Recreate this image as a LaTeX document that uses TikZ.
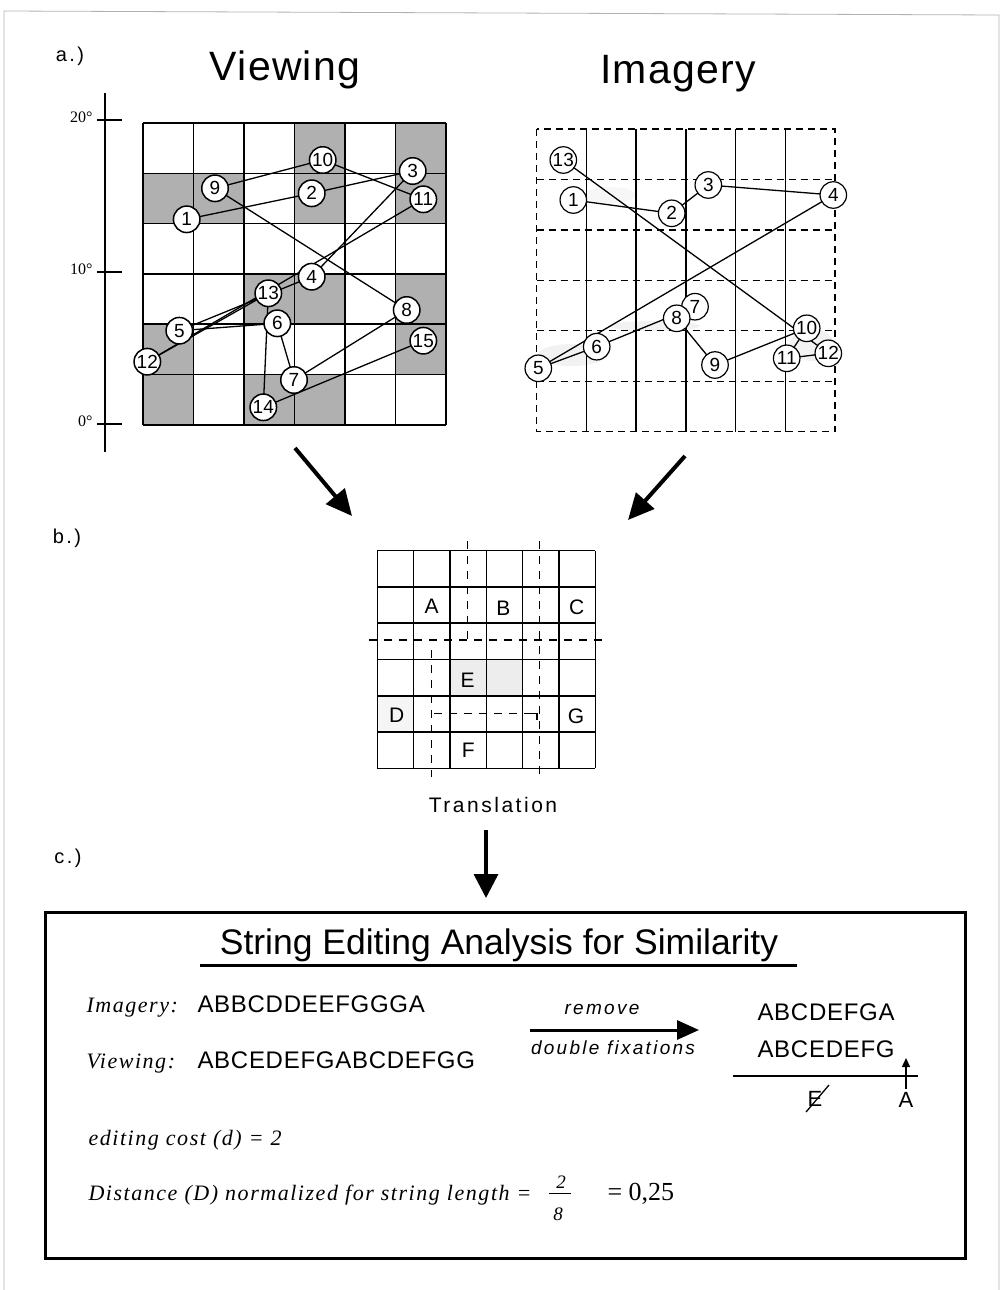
\documentclass[tikz,border=0pt]{standalone}
\usepackage{fontspec}
\setmainfont{Liberation Serif}
\setsansfont{Liberation Sans}
\newfontfamily\sansT[LetterSpace=3]{Liberation Sans}
\newfontfamily\sansS[LetterSpace=12]{Liberation Sans}
\newfontfamily\serifS[LetterSpace=7]{Liberation Serif}
\usetikzlibrary{arrows.meta}
\pgfdeclarelayer{back}
\pgfdeclarelayer{lines}
\pgfsetlayers{back,lines,main}
\tikzset{
  num/.style={circle,draw,fill=white,line width=1.5pt,minimum size=26.5pt,inner sep=0pt,
    font=\sffamily\fontsize{19}{19}\selectfont},
  gridline/.style={line width=1.5pt},
  dgrid/.style={line width=1.3pt,dash pattern=on 7pt off 5pt},
  fixline/.style={line width=1.3pt},
  vshade/.style={fill=gray!62},
  smudge/.style={fill=gray!30,opacity=0.35},
  bigarrow/.style={line width=4pt,-{Triangle[length=26pt,width=24pt]}},
  partlab/.style={font=\sansS\fontsize{20}{20}\selectfont},
  bigtitle/.style={font=\sansT\fontsize{41}{41}\selectfont,anchor=base},
  deglab/.style={font=\fontsize{16}{16}\selectfont,anchor=east},
  cell/.style={font=\sffamily\fontsize{21}{21}\selectfont},
  seq/.style={font=\sansT\fontsize{24}{24}\selectfont,anchor=base west},
  itlab/.style={font=\serifS\itshape\fontsize{22}{22}\selectfont,anchor=base west},
  itsans/.style={font=\sansS\itshape\fontsize{19}{19}\selectfont},
}
\begin{document}
\begin{tikzpicture}[x=1pt,y=-1pt]
\useasboundingbox (0,0) rectangle (1003,1290);
\draw[gray!60,line width=0.8pt] (4,1290) -- (4,11) -- (999,15) -- (999,1290);

% part labels and titles
\node[partlab] (la) at (70,56) {a.)};
\node[partlab] (lb) at (67,538) {b.)};
\node[partlab] (lc) at (68,858) {c.)};
\node[bigtitle] (tview) at (285,81) {Viewing};
\node[bigtitle] (timag) at (678,83) {Imagery};

% axis
\draw[line width=1.8pt] (105,93) -- (105,452);
\foreach \y/\t in {120/20,272/10,424/0}{
  \draw[line width=1.5pt] (97,\y) -- (122,\y);
  \node[deglab] (deg\t) at (96,\y-3) {\t°};
}

% ---------- Viewing grid ----------
\begin{pgfonlayer}{back}
\foreach \c/\r in {3/0,5/0,0/1,1/1,3/1,5/1,2/3,3/3,5/3,0/4,5/4,0/5,2/5,3/5}
  \fill[vshade] (143+\c*50.5,123+\r*50.3) rectangle ++(50.5,50.3);
\foreach \i in {0,...,6}{
  \draw[gridline] (143+\i*50.5,123) -- (143+\i*50.5,424.8);
  \draw[gridline] (143,123+\i*50.3) -- (446,123+\i*50.3);
}
\end{pgfonlayer}
\foreach \n/\x/\y in {1/186.7/219.3,2/311.7/193.3,3/412.7/171,4/311.7/276.7,5/179.3/330.7,
  6/277.3/323.3,7/294/380,8/406.7/310,9/215/188.3,10/322.7/160,11/423.3/199.3,
  12/147.3/361.7,13/268.3/293.3,14/263.3/407.3,15/423.3/340.7}
  \node[num] (v\n) at (\x,\y) {\n};
\begin{pgfonlayer}{lines}
\foreach \a/\b in {1/2,2/3,3/4,4/5,5/6,6/7,7/8,8/9,9/10,10/11,11/12,12/13,13/14,14/15}
  \draw[fixline] (v\a.center) -- (v\b.center);
\end{pgfonlayer}

% ---------- Imagery grid ----------
\begin{pgfonlayer}{back}
\fill[smudge] (572,355) ellipse (34 and 11);
\fill[smudge] (655,326) ellipse (45 and 5);
\fill[smudge] (812,345) ellipse (22 and 16);
\fill[gray!20,opacity=0.3] (610,195) ellipse (26 and 8);
\foreach \i in {1,...,5}{
  \draw[line width=1.3pt] (536.7+\i*49.72,129) -- (536.7+\i*49.72,431.7);
  \draw[dgrid] (536.7,129+\i*50.45) -- (835,129+\i*50.45);
}
\draw[dgrid] (536.7,129) rectangle (835,431.7);
\end{pgfonlayer}
\foreach \n/\x/\y in {1/573.3/200,2/671.7/213.3,3/708.3/185,4/833.3/195,5/538.3/368.3,
  6/596.7/346.7,7/695/306.7,8/676.7/318.3,9/715/365,10/806.7/328.3,11/786.7/358.3,
  12/828.3/353.3,13/563.3/160}
  \node[num,line width=1.2pt] (m\n) at (\x,\y) {\n};
\begin{pgfonlayer}{lines}
\foreach \a/\b in {1/2,2/3,3/4,4/5,5/6,6/7,7/8,8/9,9/10,10/11,11/12,12/13}
  \draw[fixline] (m\a.center) -- (m\b.center);
\end{pgfonlayer}

% arrows to b
\coordinate (a1s) at (295,448);
\coordinate (a1e) at (352,516);
\coordinate (a2s) at (685,456);
\coordinate (a2e) at (628,520);
\draw[bigarrow] (a1s) -- (a1e);
\draw[bigarrow] (a2s) -- (a2e);

% ---------- b grid ----------
\begin{pgfonlayer}{back}
\fill[gray!14] (450,659.5) rectangle (522.6,695.8);
\fill[gray!8] (377.3,695.8) rectangle (413.6,732);
\foreach \i in {0,...,6}{
  \draw[gridline] (377.3+\i*36.33,550.7) -- (377.3+\i*36.33,768.3);
  \draw[gridline] (377.3,550.7+\i*36.27) -- (595.3,550.7+\i*36.27);
}
\end{pgfonlayer}
\begin{pgfonlayer}{lines}
\draw[dgrid,dash pattern=on 8pt off 7pt] (467.3,541) -- (467.3,640);
\draw[dgrid,dash pattern=on 8pt off 7pt] (539.3,541) -- (539.3,778);
\draw[dgrid,dash pattern=on 8pt off 7pt] (369,640) -- (604,640);
\draw[dgrid,dash pattern=on 8pt off 7pt] (431.7,650) -- (431.7,777);
\draw[dgrid,dash pattern=on 8pt off 7pt] (434,713.3) -- (531,713.3);
\draw[line width=1.3pt] (531,713.3) -- (537,713.3) -- (537,720);
\end{pgfonlayer}
\node[cell] (cA) at (431.7,606.7) {A};
\node[cell] (cB) at (503.3,608) {B};
\node[cell] (cC) at (576.7,607.3) {C};
\node[cell] (cE) at (467.7,680) {E};
\node[cell] (cD) at (396.7,715) {D};
\node[cell] (cG) at (576,716.7) {G};
\node[cell] (cF) at (468.3,750) {F};
\node[font=\sansS\fontsize{21}{21}\selectfont] (trans) at (493,805) {Translation};

\coordinate (a3s) at (486,830);
\coordinate (a3e) at (486,898);
\draw[bigarrow,line width=3.5pt,-{Triangle[length=24pt,width=24pt]}] (a3s) -- (a3e);

% ---------- c box ----------
\draw[line width=3pt] (45,912) rectangle (965,1258);
\node[font=\sffamily\fontsize{35.5}{35.5}\selectfont,anchor=base] (ctitle) at (499,954) {String Editing Analysis for Similarity};
\draw[line width=3pt] (200,965) -- (797,965);

\node[itlab] (limg) at (83,1012) {Imagery:};
\node[seq] (simg) at (194,1012) {ABBCDDEEFGGGA};
\node[itlab] (lview) at (83,1068) {Viewing:};
\node[seq] (sview) at (194,1068) {ABCEDEFGABCDEFGG};

\node[itsans] (rem) at (602,1009) {remove};
\node[itsans] (dbl) at (613,1048) {double fixations};
\coordinate (rs) at (530,1030);
\coordinate (re) at (699,1030);
\draw[line width=3pt,-{Triangle[length=22pt,width=19pt]}] (rs) -- (re);

\node[seq] (r1) at (754,1020) {ABCDEFGA};
\node[seq] (r2) at (754,1057) {ABCEDEFG};
\draw[line width=1.5pt] (733,1076) -- (918,1076);
\node[font=\sffamily\fontsize{22}{22}\selectfont] (xE) at (815,1099) {E};
\draw[line width=1.3pt] (806,1112) -- (829,1085);
\node[font=\sffamily\fontsize{22}{22}\selectfont] (xA) at (906,1100) {A};
\draw[line width=1.5pt,-{Triangle[length=9pt,width=8pt]}] (xA.north) -- (906,1058);

\node[itlab] (cost) at (85,1145) {editing cost (d) = 2};
\node[itlab] (dist) at (85,1200) {Distance (D) normalized for string length =};
\node[font=\itshape\fontsize{19}{19}\selectfont,anchor=base] (fn) at (561,1188) {2};
\node[font=\itshape\fontsize{19}{19}\selectfont,anchor=base] (fd) at (558,1220) {8};
\draw[line width=0.6pt] (549,1193) -- (571,1193);
\node[font=\fontsize{26}{26}\selectfont,anchor=base west] (res) at (604,1200) {= 0,25};
\end{tikzpicture}
\end{document}
